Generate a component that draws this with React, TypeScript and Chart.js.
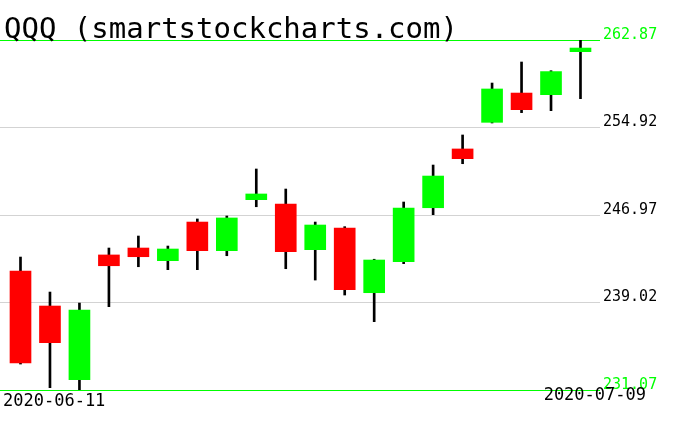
import React, { useEffect, useRef } from "react";
import { Chart, registerables } from "chart.js";

Chart.register(...registerables);

const title = "QQQ (smartstockcharts.com)";
const dates = [
  "2020-06-11", "2020-06-12", "2020-06-15", "2020-06-16", "2020-06-17",
  "2020-06-18", "2020-06-19", "2020-06-22", "2020-06-23", "2020-06-24",
  "2020-06-25", "2020-06-26", "2020-06-29", "2020-06-30", "2020-07-01",
  "2020-07-02", "2020-07-06", "2020-07-07", "2020-07-08", "2020-07-09",
];
const opens = [
  241.88, 238.7, 232.01, 243.34, 243.97, 242.82, 246.33, 243.73, 248.36, 247.97,
  243.82, 245.79, 239.91, 242.73, 247.63, 252.97, 255.39, 258.05, 257.9, 261.81,
];
const highs = [
  243.15, 239.97, 238.97, 243.97, 245.06, 244.15, 246.61, 246.88, 251.15, 249.33,
  246.33, 245.91, 242.95, 248.15, 251.51, 254.24, 258.96, 260.87, 260.08, 262.87,
];
const lows = [
  233.43, 231.28, 231.07, 238.64, 242.27, 242.0, 242.0, 243.27, 247.72, 242.09,
  241.06, 239.7, 237.28, 242.55, 247.0, 251.63, 255.33, 256.27, 256.45, 257.54,
];
const closes = [
  233.52, 235.37, 238.34, 242.36, 243.18, 243.88, 243.73, 246.7, 248.88, 243.64,
  246.06, 240.18, 242.88, 247.61, 250.51, 252.09, 258.42, 256.54, 260.0, 262.14,
];
const yTicks = [231.07, 239.02, 246.97, 254.92, 262.87];

const GREEN = "#00ff00";
const RED = "#ff0000";
const GRAY = "#d3d3d3";

const textPlugin = {
  id: "textPlugin",
  afterDraw(chart: any) {
    const ctx = chart.ctx;
    ctx.save();
    ctx.fillStyle = "#000";
    ctx.textBaseline = "alphabetic";
    ctx.textAlign = "left";
    ctx.font = "29px 'DejaVu Sans Mono'";
    ctx.fillText(title, 4, 38);
    ctx.font = "17px 'DejaVu Sans Mono'";
    ctx.fillText(dates[0], 3, 406);
    ctx.textAlign = "right";
    ctx.fillText(dates[dates.length - 1], 646, 400);
    ctx.restore();
  },
};

export default function App() {
  const ref = useRef<HTMLCanvasElement>(null);
  useEffect(() => {
    document.body.style.margin = "0";
    const bodies = dates.map((_, i) => ({ x: i, y: [opens[i], closes[i]] }));
    const wicks = dates.map((_, i) => ({ x: i, y: [lows[i], highs[i]] }));
    const colors = dates.map((_, i) => (closes[i] >= opens[i] ? GREEN : RED));
    const last = yTicks.length - 1;
    const chart = new Chart(ref.current as HTMLCanvasElement, {
      type: "bar",
      data: {
        datasets: [
          {
            data: bodies as any,
            backgroundColor: colors,
            borderWidth: 0,
            barThickness: 21,
            grouped: false,
            order: 0,
          } as any,
          {
            data: wicks as any,
            backgroundColor: "#000",
            borderWidth: 0,
            barThickness: 2,
            grouped: false,
            order: 1,
          } as any,
        ],
      },
      options: {
        animation: false,
        responsive: false,
        devicePixelRatio: 1,
        layout: { padding: { top: 40, bottom: 41, left: 0, right: 0 } },
        plugins: { legend: { display: false }, tooltip: { enabled: false }, title: { display: false } },
        scales: {
          x: {
            type: "linear",
            display: false,
            offset: false,
            min: -0.6955,
            max: 19.662,
          } as any,
          y: {
            position: "right",
            min: yTicks[0],
            max: yTicks[last],
            afterBuildTicks: (s: any) => {
              s.ticks = yTicks.map((v) => ({ value: v }));
            },
            afterFit: (s: any) => {
              s.width = 76;
            },
            border: { display: false },
            grid: {
              color: (c: any) => (c.index === 0 || c.index === last ? GREEN : GRAY),
              drawTicks: false,
              lineWidth: 1,
            },
            ticks: {
              color: (c: any) => (c.index === 0 || c.index === last ? GREEN : "#000"),
              font: { family: "'DejaVu Sans Mono'", size: 15 },
              padding: 3,
              labelOffset: -5,
              callback: (v: any) => Number(v).toFixed(2),
            },
          } as any,
        },
      },
      plugins: [textPlugin],
    });
    return () => chart.destroy();
  }, []);
  return <canvas ref={ref} width={676} height={431} />;
}
